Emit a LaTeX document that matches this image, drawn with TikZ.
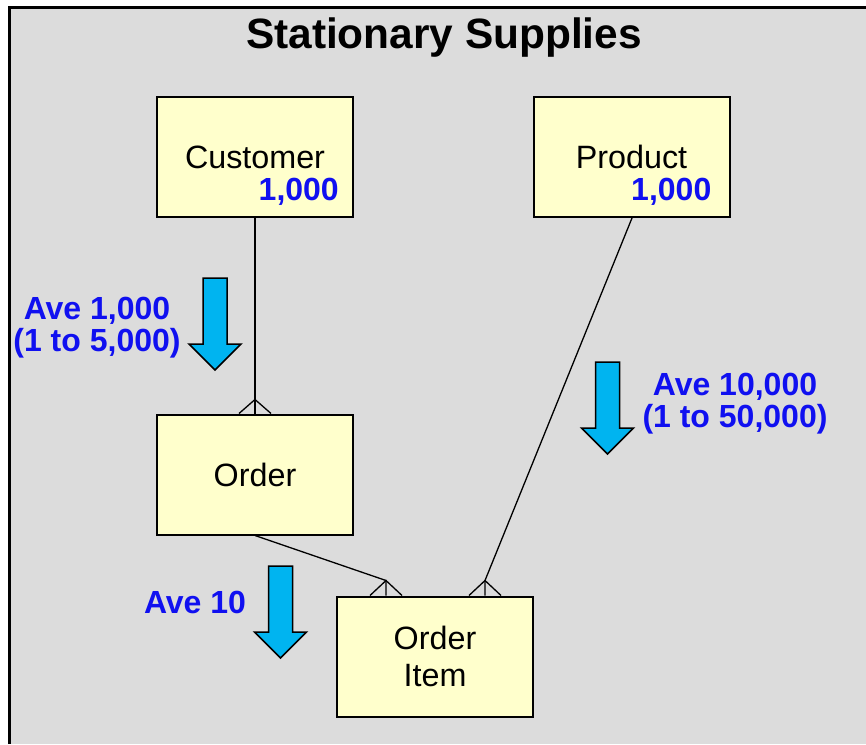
\documentclass[tikz,border=0pt]{standalone}
\usepackage{fontspec}
\setmainfont{Liberation Sans}
\begin{document}
\begin{tikzpicture}[x=1pt,y=-1pt,
  entity/.style={draw=black, line width=2pt, fill=entfill, minimum width=196pt,
    minimum height=120pt, inner sep=0pt, align=center,
    font=\fontsize{32.3}{37}\selectfont},
  qty/.style={text=qblue, font=\bfseries\fontsize{32}{32}\selectfont, inner sep=0pt},
  note/.style={text=qblue, font=\bfseries\fontsize{32}{32}\selectfont, align=center, inner sep=0pt},
  link/.style={draw=black, line width=1.3pt},
  flow/.style={fill=flowblue, draw=black, line width=1.5pt, line join=miter},
  pics/downarrow/.style={code={
    \path[flow] (-12,0) -- (12,0) -- (12,66) -- (26,66) -- (0,92) -- (-26,66) -- (-12,66) -- cycle;
  }}
]
\definecolor{entfill}{HTML}{FFFFCC}
\definecolor{qblue}{HTML}{1010F0}
\definecolor{flowblue}{HTML}{00B4F0}
\definecolor{panel}{HTML}{DCDCDC}

\useasboundingbox (0,0) rectangle (866,744);
\fill[white] (0,0) rectangle (866,744);
% panel with its frame on the left and top sides
\fill[panel] (9,7) rectangle (866,744);
\draw[black, line width=3pt] (9,744) -- (9,7) -- (866,7);

\node[font=\bfseries\fontsize{42.4}{46}\selectfont] (title) at (444,38) {Stationary Supplies};

% entities
\node[entity] (customer) at (255,157) {Customer};
\node[entity] (product) at (631.5,157) {Product};
\node[entity] (order) at (255,474.5) {Order};
\node[entity] (item) at (435,656.5) {\raisebox{-2pt}{Order}\\\raisebox{-2pt}{Item}};

\node[qty, anchor=east] (cnum) at ([xshift=-15pt,yshift=-35pt]customer.east) {1,000};
\node[qty, anchor=east] (pnum) at ([xshift=-19pt,yshift=-35pt]product.east) {1,000};

% crow's-foot apexes above the many side
\coordinate (oa) at ([yshift=14pt]order.north);
\coordinate (ia) at ([xshift=-49pt,yshift=15pt]item.north);
\coordinate (ib) at ([xshift=50pt,yshift=15pt]item.north);

% relationships
\draw[link] (customer.south) -- (order.north);
\draw[link] ([xshift=-16pt]order.north) -- (oa) -- ([xshift=16pt]order.north);

\draw[link] (order.south) -- (ia) -- ([yshift=-15pt]ia);
\draw[link] ([xshift=-16pt,yshift=-15pt]ia) -- (ia) -- ([xshift=16pt,yshift=-15pt]ia);

\draw[link] ([xshift=0.5pt]product.south) -- (ib) -- ([yshift=-15pt]ib);
\draw[link] ([xshift=-16pt,yshift=-15pt]ib) -- (ib) -- ([xshift=16pt,yshift=-15pt]ib);

% volume arrows and their notes
\pic at (215,278) {downarrow};
\pic at (607.5,362) {downarrow};
\pic at (280.5,566) {downarrow};

\node[note] (n1) at (97,328) {Ave 1,000\\(1 to 5,000)};
\node[note] (n2) at (735,404) {Ave 10,000\\(1 to 50,000)};
\node[note] (n3) at (195,602) {Ave 10};
\end{tikzpicture}
\end{document}
